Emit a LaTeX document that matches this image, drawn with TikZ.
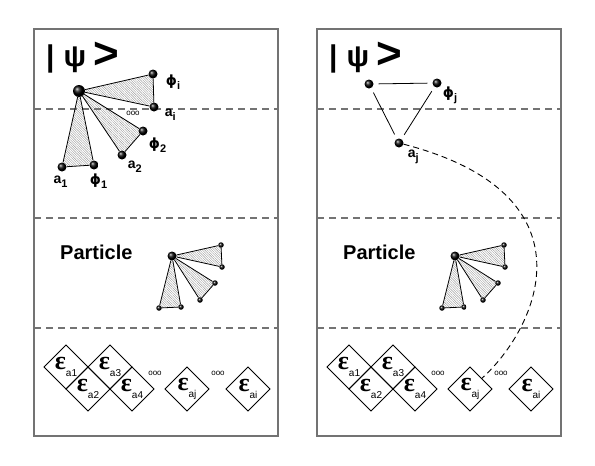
\documentclass[tikz,border=0pt]{standalone}
\usepackage{fontspec}
\setmainfont{Liberation Sans}
\newfontfamily\serifgreek{Liberation Serif}
\newfontfamily\phifont{DejaVu Sans}
\usetikzlibrary{positioning, shapes.geometric, patterns, patterns.meta, backgrounds}

\newcommand{\lbl}[2]{#1\raisebox{-4pt}{\fontsize{11}{11}\selectfont #2}}
\newcommand{\phisym}{{\phifont ϕ}}
\newcommand{\epsl}[1]{{\serifgreek\bfseries\fontsize{26}{26}\selectfont ε}\raisebox{-7pt}{\fontsize{10}{10}\selectfont #1}}

\tikzset{
  bead/.style={circle, inner sep=0pt, minimum size=9pt, shading=ball, ball color=black},
  bigbead/.style={bead, minimum size=12pt},
  tinybead/.style={bead, minimum size=5.5pt},
  panel/.style={draw=black!55, line width=1.3pt},
  divider/.style={draw=black!55, line width=1.1pt, dash pattern=on 7pt off 5pt},
  hatch/.style={pattern={Lines[angle=-45, distance=1.7pt, line width=0.4pt]}, pattern color=black!40},
  edge/.style={line width=0.8pt},
  lab/.style={inner sep=0pt, font=\fontsize{14}{14}\selectfont\bfseries},
  ket/.style={inner sep=0pt, font=\fontsize{30}{30}\selectfont\bfseries},
  title/.style={inner sep=0pt, font=\fontsize{20}{20}\selectfont\bfseries},
  ooo/.style={inner sep=0pt, font=\fontsize{8}{8}\selectfont},
  cell/.style={diamond, draw, line width=0.8pt, inner sep=0pt, outer sep=0pt, minimum width=44pt, minimum height=44pt},
  gapline/.style={edge, shorten <=5pt, shorten >=5pt},
  link/.style={line width=0.9pt, dash pattern=on 6pt off 4pt}
}

\begin{document}
\begin{tikzpicture}[x=1pt, y=-1pt]
\useasboundingbox (0,0) rectangle (595,466);
% both panels: frame, bands, particle, energy cells
\foreach \s/\p in {0/L, 283/R}{
\begin{scope}[xshift=\s pt]
  \draw[panel] (34,29) rectangle (278,436);
  \foreach \y in {109,218,328}
    \draw[divider] (34,\y) -- (278,\y);
  \node[ket, anchor=west] (\p ket) at (46,58) {|\hspace{9pt}ψ\hspace{7pt}\raisebox{-2pt}{\fontsize{44}{44}\selectfont >}};
  \node[title, anchor=west] (\p name) at (60,252) {Particle};
  % particle
  \node[bead] (\p c) at (172,256) {};
  \node[tinybead] (\p q1) at (221,245) {};
  \node[tinybead] (\p q2) at (222,267) {};
  \node[tinybead] (\p q3) at (215,283) {};
  \node[tinybead] (\p q4) at (200,300) {};
  \node[tinybead] (\p q5) at (181,307) {};
  \node[tinybead] (\p q6) at (159,308) {};
  \begin{scope}[on background layer]
    \fill[hatch] (\p c.center) -- (\p q1.center) -- (\p q2.center) -- cycle;
    \fill[hatch] (\p c.center) -- (\p q3.center) -- (\p q4.center) -- cycle;
    \fill[hatch] (\p c.center) -- (\p q5.center) -- (\p q6.center) -- cycle;
  \end{scope}
  \draw[edge] (\p c) -- (\p q1) -- (\p q2) -- (\p c) -- (\p q3) -- (\p q4) -- (\p c) -- (\p q5) -- (\p q6) -- (\p c);
  % cells
  \node[cell] (\p e1) at (66,367) {\epsl{a1}};
  \node[cell, below right=0pt of \p e1] (\p e2) {\epsl{a2}};
  \node[cell, above right=0pt of \p e2] (\p e3) {\epsl{a3}};
  \node[cell, below right=0pt of \p e3] (\p e4) {\epsl{a4}};
  \node[ooo] (\p d1) at (155,373) {ooo};
  \node[cell] (\p ej) at (187,389) {\epsl{aj}};
  \node[ooo] (\p d2) at (218,373) {ooo};
  \node[cell, right=17pt of \p ej] (\p ei) {\epsl{ai}};
\end{scope}
}

% left: the state spread over all pairs
\node[bigbead] (Lc0) at (79,91) {};
\node[bead] (Lphii) at (153,74) {};
\node[bead] (Lai) at (154,107) {};
\node[bead] (Lphi2) at (143,131) {};
\node[bead] (La2) at (122,155) {};
\node[bead] (La1) at (62,167) {};
\node[bead] (Lphi1) at (94,165) {};
\begin{scope}[on background layer]
  \fill[hatch] (Lc0.center) -- (Lphii.center) -- (Lai.center) -- cycle;
  \fill[hatch] (Lc0.center) -- (Lphi2.center) -- (La2.center) -- cycle;
  \fill[hatch] (Lc0.center) -- (La1.center) -- (Lphi1.center) -- cycle;
\end{scope}
\draw[edge] (Lc0) -- (Lphii) -- (Lai) -- (Lc0) -- (Lphi2) -- (La2) -- (Lc0) -- (La1) -- (Lphi1) -- (Lc0);
\node[lab, right=8pt of Lphii, yshift=-8pt] (Lphiilab) {\lbl{\phisym}{i}};
\node[lab, right=6pt of Lai, yshift=-8pt] (Lailab) {\lbl{a}{i}};
\node[ooo] (Ldots) at (133,113) {ooo};
\node[lab, right=1pt of Lphi2, yshift=-14pt] (Lphi2lab) {\lbl{\phisym}{2}};
\node[lab, right=1pt of La2, yshift=-12pt] (La2lab) {\lbl{a}{2}};
\node[lab, below=4pt of La1, xshift=-1.5pt] (La1lab) {\lbl{a}{1}};
\node[lab, below=4pt of Lphi1, xshift=4.5pt] (Lphi1lab) {\lbl{\phisym}{1}};

% right: one pair picked out
\node[bead] (Rt) at (369,84) {};
\node[bead] (Rphij) at (437,83) {};
\node[bead] (Raj) at (399,143) {};
\draw[gapline] (Rt) -- (Rphij);
\draw[gapline] (Rt) -- (Raj);
\draw[gapline] (Rphij) -- (Raj);
\node[lab, right=1pt of Rphij, yshift=-12pt] (Rphijlab) {\lbl{\phisym}{j}};
\node[lab, right=4pt of Raj, yshift=-14pt] (Rajlab) {\lbl{a}{j}};
\draw[link] (Raj) .. controls (596,194) and (540,326) .. (Rej);
\end{tikzpicture}
\end{document}
